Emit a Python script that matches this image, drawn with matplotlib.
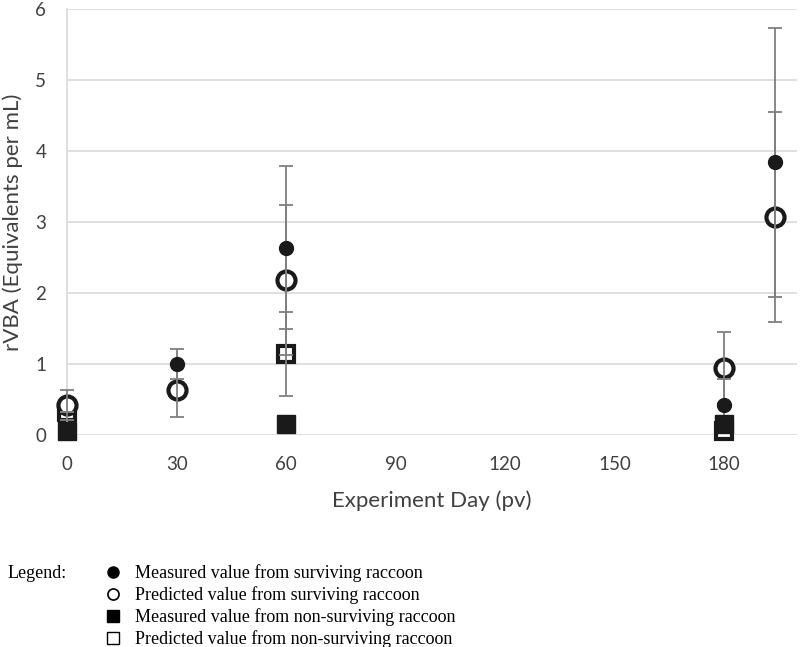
import matplotlib
matplotlib.use("Agg")
import matplotlib.pyplot as plt
from matplotlib.lines import Line2D

# measured value, surviving raccoon (filled circles)
ms_day = [30, 60, 180, 194]
ms_val = [1.00, 2.64, 0.42, 3.84]
ms_err = [0.21, 1.15, 0.37, 1.90]

# predicted value, surviving raccoon (open circles)
ps_day = [0, 30, 60, 180, 194]
ps_val = [0.42, 0.64, 2.18, 0.95, 3.07]
ps_err = [0.21, 0.38, 1.06, 0.50, 1.48]

# measured value, non-surviving raccoon (filled squares)
mn_day = [0, 60, 180]
mn_val = [0.05, 0.16, 0.15]

# predicted value, non-surviving raccoon (open squares)
pn_day = [0, 60, 180]
pn_val = [0.32, 1.14, 0.05]
pn_err = [0.0, 0.59, 0.0]

xticks = [0, 30, 60, 90, 120, 150, 180]
yticks = [0, 1, 2, 3, 4, 5, 6]

legend_labels = ["Measured value from surviving raccoon",
                 "Predicted value from surviving raccoon",
                 "Measured value from non-surviving raccoon",
                 "Predicted value from non-surviving raccoon"]

plt.rcParams['font.family'] = ['Lato', 'DejaVu Sans']

fig = plt.figure(figsize=(8, 6.47), dpi=100)
ax = fig.add_axes([0.084, 0.3277, 0.912, 0.6583])

grey = '#7f7f7f'
ink = '#1a1a1a'
ax.plot(pn_day, pn_val, 's', ms=12, mfc='white', mec=ink, mew=3, zorder=2, clip_on=False)
ax.plot(ps_day, ps_val, 'o', ms=13, mfc='white', mec=ink, mew=3, zorder=3, clip_on=False)
for d, v, e in [(ps_day, ps_val, ps_err), (ms_day, ms_val, ms_err), (pn_day, pn_val, pn_err)]:
    eb = ax.errorbar(d, v, yerr=e, fmt='none', ecolor=grey, elinewidth=1.3,
                     capsize=5, capthick=1.3, zorder=4)
    for art in eb.lines[1] + eb.lines[2]:
        art.set_clip_on(False)
ax.plot(mn_day, mn_val, 's', ms=13, color=ink, zorder=5, clip_on=False)
ax.plot(ms_day, ms_val, 'o', ms=10, color=ink, zorder=6, clip_on=False)

ax.set_xlim(0, 200)
ax.set_ylim(0, 6)
ax.set_xticks(xticks)
ax.set_yticks(yticks)
ax.tick_params(length=0, labelsize=13.5, colors='#404040', pad=15)
ax.grid(axis='y', color='#d9d9d9', linewidth=1.2)
ax.set_axisbelow(True)
for s in ['top', 'right', 'bottom']:
    ax.spines[s].set_visible(False)
ax.spines['left'].set_color('#d9d9d9')
ax.spines['left'].set_linewidth(1.2)

ax.set_xlabel('Experiment Day (pv)', fontsize=16, color='#404040')
ax.xaxis.set_label_coords(0.5, -0.129)
ax.set_ylabel('rVBA (Equivalents per mL)', fontsize=16, color='#404040')
ax.yaxis.set_label_coords(-0.060, 0.5)

serif = {'family': 'Liberation Serif', 'size': 13}
handles = [
    Line2D([], [], marker='o', ls='none', ms=8, color='black'),
    Line2D([], [], marker='o', ls='none', ms=8, mfc='white', mec='black', mew=1.2),
    Line2D([], [], marker='s', ls='none', ms=8, color='black'),
    Line2D([], [], marker='s', ls='none', ms=8, mfc='white', mec='black', mew=1.0),
]
fig.legend(handles, legend_labels, loc='upper left', bbox_to_anchor=(0.13, 1 - 564 / 647),
           frameon=False, prop=serif, handlelength=1.0, handletextpad=0.7,
           labelspacing=0.24, borderaxespad=0, borderpad=0)
fig.text(0.01, 1 - 574 / 647, 'Legend:', fontdict=serif, va='center')

fig.savefig('out.png', dpi=100)
